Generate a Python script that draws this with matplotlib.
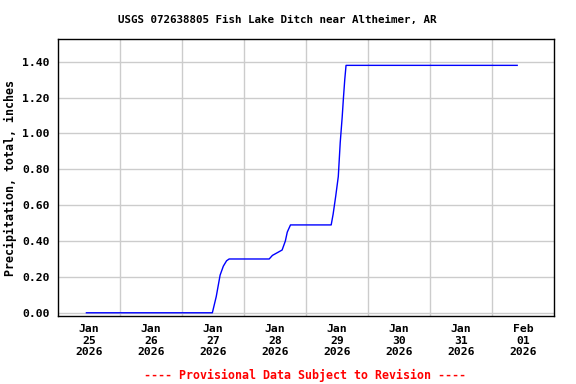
import pandas as pd
import matplotlib as mpl
mpl.use("Agg")
import matplotlib.pyplot as plt

mpl.rcParams.update({'font.family': 'DejaVu Sans Mono', 'font.weight': 'bold',
                     'axes.labelweight': 'bold'})

times = ["2026-01-24 23:00", "2026-01-26 23:45", "2026-01-27 01:15", "2026-01-27 02:45",
         "2026-01-27 04:00", "2026-01-27 05:15", "2026-01-27 06:15", "2026-01-27 21:45",
         "2026-01-27 23:00", "2026-01-28 00:15", "2026-01-28 02:45", "2026-01-28 04:00",
         "2026-01-28 04:45", "2026-01-28 06:00", "2026-01-28 21:45", "2026-01-28 22:30",
         "2026-01-28 23:30", "2026-01-29 00:30", "2026-01-29 01:15", "2026-01-29 02:00",
         "2026-01-29 02:30", "2026-01-29 03:00", "2026-01-29 03:30", "2026-01-31 21:45"]
precip = [0.00, 0.00, 0.09, 0.21, 0.26, 0.29, 0.30, 0.30,
          0.32, 0.33, 0.35, 0.40, 0.45, 0.49, 0.49, 0.55,
          0.65, 0.76, 0.95, 1.09, 1.20, 1.30, 1.38, 1.38]
tick_days = ["2026-01-25", "2026-01-26", "2026-01-27", "2026-01-28",
             "2026-01-29", "2026-01-30", "2026-01-31", "2026-02-01"]
tick_labels = ["Jan\n25\n2026", "Jan\n26\n2026", "Jan\n27\n2026", "Jan\n28\n2026",
               "Jan\n29\n2026", "Jan\n30\n2026", "Jan\n31\n2026", "Feb\n01\n2026"]
y_ticks = [0.0, 0.2, 0.4, 0.6, 0.8, 1.0, 1.2, 1.4]

t = pd.to_datetime(times)
days = pd.to_datetime(tick_days)
half = pd.Timedelta(hours=12)

fig = plt.figure(figsize=(5.76, 3.84), dpi=100)
ax = fig.add_axes([58/576, 1-316/384, 496/576, 277/384])

ax.plot(t, precip, color='#0000ff', lw=1.0)

ax.set_xlim(days[0] - half, days[-1] + half)
ax.set_ylim(-0.018, 1.527)
ax.set_xticks(days)
ax.set_xticklabels(tick_labels, fontsize=8.2, linespacing=1.15)
ax.set_xticks(days[:-1] + half, minor=True)
ax.set_yticks(y_ticks)
ax.set_yticklabels(["%.2f" % v for v in y_ticks], fontsize=8.2)
ax.tick_params(axis='both', which='both', length=0, pad=6)
ax.grid(True, which='minor', axis='x', color='#cccccc', lw=1)
ax.grid(True, which='major', axis='y', color='#cccccc', lw=1)
ax.set_axisbelow(True)
for s in ax.spines.values():
    s.set_linewidth(1.0)

ax.set_ylabel("Precipitation, total, inches", fontsize=8.4, labelpad=4)
fig.text(277.5/576, 1-20/384, "USGS 072638805 Fish Lake Ditch near Altheimer, AR",
         ha='center', va='center', fontsize=7.8)
fig.text(305.5/576, 1-375/384, "---- Provisional Data Subject to Revision ----",
         ha='center', va='center', fontsize=8.4, color='#ff0000')

fig.savefig("out.png", dpi=100)
